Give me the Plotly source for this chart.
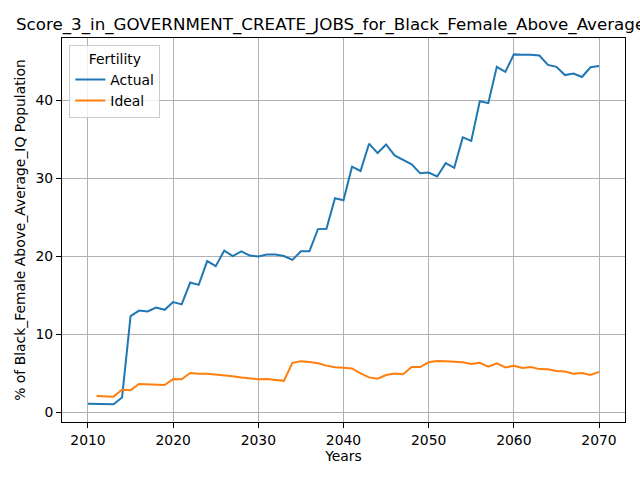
import plotly.graph_objects as go

years = list(range(2010, 2071))

actual = [1.05, 1.05, 1.0, 1.0, 1.85, 12.3, 13.0, 12.9, 13.4, 13.1,
          14.1, 13.8, 16.6, 16.3, 19.35, 18.7, 20.7, 20.0, 20.6, 20.05,
          19.95, 20.2, 20.2, 20.0, 19.5, 20.6, 20.6, 23.45, 23.5, 27.4,
          27.15, 31.45, 30.9, 34.4, 33.2, 34.3, 32.9, 32.3, 31.75, 30.6,
          30.7, 30.2, 31.9, 31.3, 35.2, 34.75, 39.85, 39.6, 44.25, 43.6,
          45.85, 45.8, 45.8, 45.7, 44.5, 44.25, 43.2, 43.4, 42.95, 44.2,
          44.35]

ideal_years = list(range(2011, 2071))
ideal = [2.05, 2.0, 1.97, 2.86, 2.8, 3.6, 3.55, 3.52, 3.46, 4.22,
         4.2, 5.0, 4.9, 4.9, 4.8, 4.73, 4.6, 4.42, 4.27, 4.2,
         4.22, 4.12, 4.0, 6.3, 6.5, 6.4, 6.25, 5.95, 5.75, 5.68,
         5.58, 4.95, 4.44, 4.27, 4.74, 4.95, 4.85, 5.77, 5.77, 6.37,
         6.54, 6.52, 6.45, 6.37, 6.15, 6.3, 5.8, 6.24, 5.72, 5.93,
         5.64, 5.77, 5.5, 5.48, 5.25, 5.2, 4.9, 5.0, 4.76, 5.15]

font = "DejaVu Sans"
txt = dict(family=font, size=13.9, color="black")

fig = go.Figure()
fig.add_trace(go.Scatter(x=years, y=actual, mode="lines", name="Actual",
                         line=dict(color="#1f77b4", width=2)))
fig.add_trace(go.Scatter(x=ideal_years, y=ideal, mode="lines", name="Ideal",
                         line=dict(color="#ff7f0e", width=2)))

axis_style = dict(showline=True, linecolor="black", linewidth=1, mirror=True,
                  showgrid=True, gridcolor="#b0b0b0", gridwidth=1,
                  ticks="outside", ticklen=5, tickcolor="black", automargin=False,
                  zeroline=False, tickfont=txt)

fig.update_layout(
    width=640, height=480,
    paper_bgcolor="white", plot_bgcolor="white",
    margin=dict(l=62, r=15, t=38, b=58),
    title=dict(text="Score_3_in_GOVERNMENT_CREATE_JOBS_for_Black_Female_Above_Average_IQ",
               x=16 / 640, xanchor="left", y=1 - 24 / 480, yanchor="middle",
               automargin=False,
               font=dict(family=font, size=16.7, color="black")),
    xaxis=dict(range=[2006.95, 2073.05], tickvals=[2010, 2020, 2030, 2040, 2050, 2060, 2070],
               title=dict(text="Years", font=txt, standoff=4),
               **axis_style),
    yaxis=dict(range=[-1.28, 47.95], tickvals=[0, 10, 20, 30, 40],
               title=dict(text="% of Black_Female Above_Average_IQ Population",
                          font=txt, standoff=6),
               **axis_style),
    legend=dict(x=0.013, y=0.982, xanchor="left", yanchor="top",
                bgcolor="rgba(255,255,255,0.8)", bordercolor="#cccccc", borderwidth=1,
                font=txt,
                title=dict(text="Fertility", side="top center", font=txt)),
    showlegend=True,
)

# the page's default body margin would push the figure 8px off
fig.write_html("out.html", config={"displayModeBar": False},
               post_script="document.body.style.margin='0';")
